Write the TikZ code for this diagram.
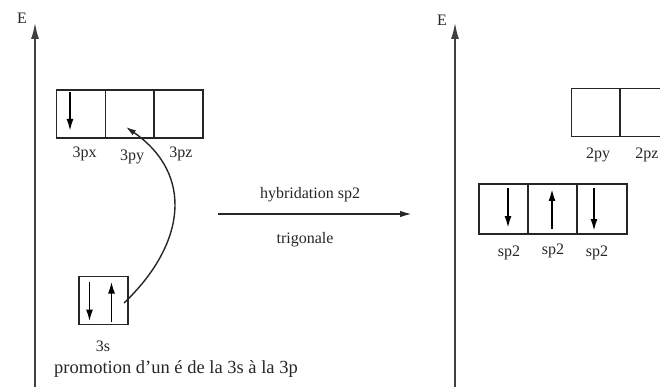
\documentclass[tikz,border=0pt]{standalone}
\usepackage{fontspec}
\setmainfont{Liberation Serif}
\usetikzlibrary{arrows.meta}
\tikzset{
  orb/.style={draw=black!85, line width=1.8pt, minimum width=49pt, minimum height=48pt, inner sep=0pt, outer sep=0pt},
  spin/.style={line width=1.8pt, -{Latex[length=12pt,width=7pt]}},
  axis/.style={line width=2.2pt, draw=black!75, -{Latex[length=17pt,width=8pt]}},
  lbl/.style={font=\fontsize{16}{18}\selectfont, inner sep=0pt, text=black!85},
}
\begin{document}
\begin{tikzpicture}[x=1pt,y=-1pt]
\useasboundingbox (0,0) rectangle (660,387);
% axes
\coordinate (a1s) at (35,390);
\coordinate (a1e) at (35,22);
\draw[axis] (a1s) -- (a1e);
\node[lbl] (E1) at (22,18) {E};
\coordinate (a2s) at (455,390);
\coordinate (a2e) at (455,22);
\draw[axis] (a2s) -- (a2e);
\node[lbl] (E2) at (442,20) {E};
% 3p boxes
\node[orb] (px) at (81,114) {};
\node[orb] (py) at (130,114) {};
\node[orb] (pz) at (178.5,114) {};
\node[lbl] (lpx) at (84.5,154) {3px};
\node[lbl] (lpy) at (132,157) {3py};
\node[lbl] (lpz) at (181,154) {3pz};
\draw[spin] ([xshift=-11pt,yshift=-2pt]px.north) -- ([xshift=-11pt,yshift=7pt]px.south);
% 3s box
\node[orb] (s) at (103.5,300.5) {};
\draw[spin] ([xshift=-14pt,yshift=-5pt]s.north) -- ([xshift=-14pt,yshift=3pt]s.south);
\draw[spin] ([xshift=8pt,yshift=3pt]s.south) -- ([xshift=8pt,yshift=-5pt]s.north);
\node[lbl] (ls) at (103,346) {3s};
\node[lbl, font=\fontsize{18.5}{20}\selectfont] (prom) at (176,369) {promotion d'un é de la 3s à la 3p};
% promotion curve
\coordinate (cs) at (124,303);
\coordinate (ce) at (126,127);
\draw[line width=1.4pt, draw=black!85, -{Latex[length=10pt,width=6pt]}] (cs) .. controls (185,245) and (195,175) .. (ce);
% middle arrow
\coordinate (m1) at (218,214);
\coordinate (m2) at (412,214);
\draw[line width=1.7pt, draw=black!85, -{Latex[length=12pt,width=6.5pt]}] (m1) -- (m2);
\node[lbl] (hyb) at (310,195) {hybridation sp2};
\node[lbl] (tri) at (305,240) {trigonale};
% 2p boxes
\node[orb] (qy) at (596,112.5) {};
\node[orb] (qz) at (644.5,112.5) {};
\node[lbl] (lqy) at (598,155) {2py};
\node[lbl] (lqz) at (647,155) {2pz};
% sp2 boxes
\node[orb, minimum height=50pt] (h1) at (503.5,209) {};
\node[orb, minimum height=50pt] (h2) at (552,209) {};
\node[orb, minimum height=50pt, minimum width=50pt] (h3) at (602,209) {};
\draw[spin] ([xshift=4.5pt,yshift=-4pt]h1.north) -- ([xshift=4.5pt,yshift=6pt]h1.south);
\draw[spin] ([yshift=5pt]h2.south) -- ([yshift=-5pt]h2.north);
\draw[spin] ([xshift=-8pt,yshift=-4pt]h3.north) -- ([xshift=-8pt,yshift=3pt]h3.south);
\node[lbl] (l1) at (509,253) {sp2};
\node[lbl] (l2) at (553,251) {sp2};
\node[lbl] (l3) at (597,253) {sp2};
\end{tikzpicture}
\end{document}
